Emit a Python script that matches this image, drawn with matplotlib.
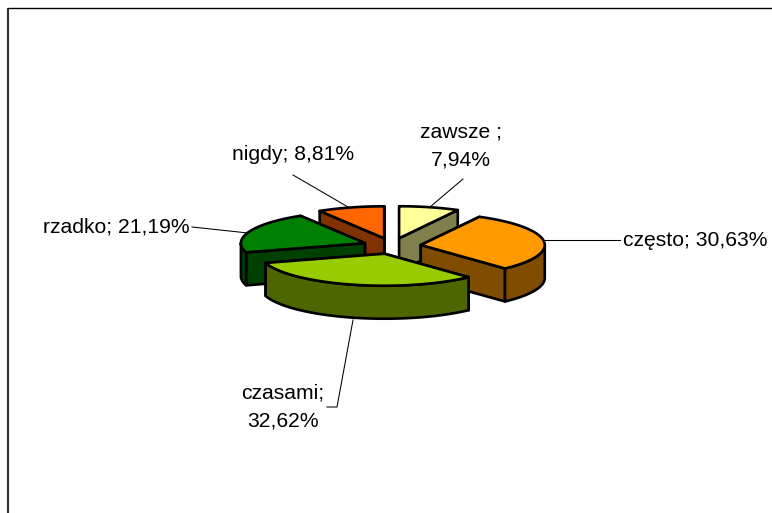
import numpy as np
import matplotlib
matplotlib.use('Agg')
import matplotlib.pyplot as plt
from matplotlib.patches import Polygon

categories = ['zawsze', 'często', 'czasami', 'rzadko', 'nigdy']
values = [7.94, 30.63, 32.62, 21.19, 8.81]
top_colors = ['#FFFF99', '#FF9900', '#99CC00', '#008000', '#FF6600']
side_colors = ['#80804D', '#804D00', '#4D6600', '#004000', '#803300']
labels = ['zawsze ;\n7,94%', 'często; 30,63%', 'czasami;\n32,62%', 'rzadko; 21,19%', 'nigdy; 8,81%']

# pie geometry in pixels
cx, cy = 392, 246
rx, ry = 124, 32
depth = 33
explode_x, explode_y = 29, 8
draw_order = [0, 4, 3, 1, 2]

fig = plt.figure(figsize=(7.72, 5.13), dpi=100)
ax = fig.add_axes([0, 0, 1, 1])
ax.set_xlim(0, 772)
ax.set_ylim(513, 0)
ax.axis('off')

# frame, open on the right and bottom
ax.plot([8, 8], [513, 7.5], color='#333333', lw=1.5, solid_capstyle='butt')
ax.plot([8, 772], [7.5, 7.5], color='black', lw=1.0, solid_capstyle='butt')

total = sum(values)
edges = np.concatenate([[0], np.cumsum(values)]) / total * 2 * np.pi


def face(pts, color):
    ax.add_patch(Polygon(pts, closed=True, facecolor=color, edgecolor='black',
                         lw=1.9, joinstyle='round'))


def arc(x0, y0, a0, a1):
    t = np.linspace(a0, a1, 60)
    return np.column_stack([x0 + rx * np.sin(t), y0 - ry * np.cos(t)])


for i in draw_order:
    a0, a1 = edges[i], edges[i + 1]
    mid = (a0 + a1) / 2
    x0 = cx + explode_x * np.sin(mid)
    y0 = cy - explode_y * np.cos(mid)
    down = np.array([0, depth])
    apex = np.array([x0, y0])

    # radial walls, the one further back first
    for a in sorted([a0, a1], key=lambda v: -np.cos(v)):
        corner = arc(x0, y0, a, a)[0]
        face([apex, corner, corner + down, apex + down], side_colors[i])

    # outer rim, only the part facing the viewer
    v0, v1 = max(a0, np.pi / 2), min(a1, 3 * np.pi / 2)
    if v1 > v0:
        rim = arc(x0, y0, v0, v1)
        face(np.vstack([rim, rim[::-1] + down]), side_colors[i])

    face(np.vstack([[apex], arc(x0, y0, a0, a1)]), top_colors[i])

# leader lines
leaders = [
    ([463, 430], [179, 207]),
    ([545, 620], [240, 240]),
    ([353, 337, 327], [320, 407, 407]),
    ([192, 248], [227, 233]),
    ([293, 348], [175, 207]),
]
for xs, ys in leaders:
    ax.plot(xs, ys, color='black', lw=0.75)

label_pos = [(461, 146), (695.5, 240), (283, 407), (116.5, 227), (293, 154)]
for (x, y), s in zip(label_pos, labels):
    ax.text(x, y, s, ha='center', va='center', fontsize=15.2,
            family='Liberation Sans', color='black', linespacing=1.62)

fig.savefig('out.png', dpi=100)
